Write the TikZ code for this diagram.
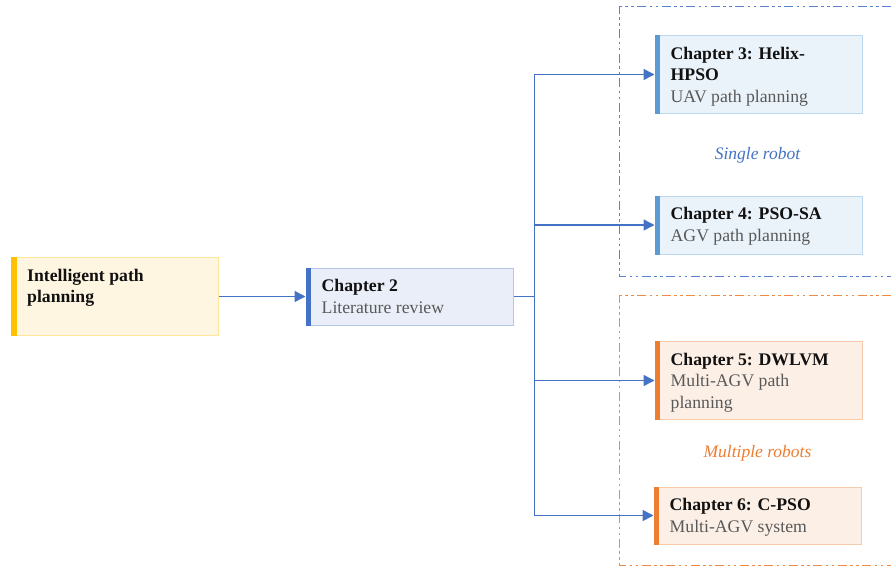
\documentclass[tikz,border=0pt]{standalone}
\usepackage{fontspec}
\setmainfont{Liberation Serif}
\usetikzlibrary{arrows.meta}

\definecolor{linkblue}{HTML}{4472C4}
\definecolor{frameorange}{HTML}{F08A45}
\definecolor{frameblue}{HTML}{5A82D2}
\definecolor{subgray}{HTML}{595959}
\definecolor{titleblack}{HTML}{111111}
% bar, fill and border colours of the boxes
\definecolor{barYellow}{HTML}{FFC000}
\definecolor{fillYellow}{HTML}{FFF6E1}
\definecolor{lineYellow}{HTML}{FFE699}
\definecolor{barDark}{HTML}{4472C4}
\definecolor{fillDark}{HTML}{E9EEF8}
\definecolor{lineDark}{HTML}{B4C7E7}
\definecolor{barLight}{HTML}{5B9BD5}
\definecolor{fillLight}{HTML}{EBF3FA}
\definecolor{lineLight}{HTML}{BDD7EE}
\definecolor{barOrange}{HTML}{ED7D31}
\definecolor{fillOrange}{HTML}{FCEFE6}
\definecolor{lineOrange}{HTML}{F8CBAD}

\tikzset{
  chapbox/.style={line width=1pt, anchor=north west, inner sep=0pt, minimum width=207pt},
  chaptext/.style={anchor=north west, align=left, inner sep=0pt,
    font=\fontsize{17.7}{21.5}\selectfont, text=titleblack},
  link/.style={draw=linkblue, line width=1.5pt},
  linkarrow/.style={link, -{Triangle[length=11pt,width=11pt]}},
  grouplabel/.style={font=\fontsize{17.5}{21}\selectfont\itshape, anchor=base},
  groupframe/.style={line width=1.6pt, line cap=butt,
    dash pattern=on 9pt off 3.5pt on 2.5pt off 3.5pt on 2.5pt off 3.5pt}
}

% coloured strip along the left side of a box
\newcommand\leftbar[2]{\fill[#2] (#1.north west) rectangle ([xshift=5.5pt]#1.south west);}
% the first line of every box text starts 14pt above its baseline
\newcommand\firstline{\rule{0pt}{14pt}}
\newcommand\subline[1]{\textcolor{subgray}{#1}}

\begin{document}
\begin{tikzpicture}[x=1pt,y=-1pt]
  \useasboundingbox (0,0) rectangle (891,568);

  % group frames, open on the right where they run off the page
  \coordinate (bt) at (891,6.5);   \coordinate (bb) at (891,276.5);
  \coordinate (ot) at (891,295.5); \coordinate (ob) at (891,565.5);
  \draw[groupframe, draw=frameblue] (bt) -- (619.5,6.5) -- (619.5,276.5) -- (bb);
  \draw[groupframe, draw=frameorange] (ot) -- (619.5,295.5) -- (619.5,565.5) -- (ob);
  \node[grouplabel, text=linkblue] (single) at (757.5,159) {Single robot};
  \node[grouplabel, text=barOrange] (multi) at (757.5,457) {Multiple robots};

  % boxes
  \node[chapbox, draw=lineYellow, fill=fillYellow, minimum height=78pt] (ip) at (11,257) {};
  \node[chapbox, draw=lineDark, fill=fillDark, minimum height=57pt] (c2) at (305.5,267.5) {};
  \node[chapbox, draw=lineLight, fill=fillLight, minimum height=78pt] (c3) at (654.5,35) {};
  \node[chapbox, draw=lineLight, fill=fillLight, minimum height=58pt] (c4) at (654.5,195.5) {};
  \node[chapbox, draw=lineOrange, fill=fillOrange, minimum height=78pt] (c5) at (654.5,341) {};
  \node[chapbox, draw=lineOrange, fill=fillOrange, minimum height=57pt] (c6) at (653.5,486.5) {};
  \leftbar{ip}{barYellow}
  \leftbar{c2}{barDark}
  \leftbar{c3}{barLight}
  \leftbar{c4}{barLight}
  \leftbar{c5}{barOrange}
  \leftbar{c6}{barOrange}

  % box texts
  \node[chaptext] (ipt) at ([shift={(16,10)}]ip.north west)
    {\firstline\textbf{Intelligent path}\\\textbf{planning}};
  \node[chaptext] (c2t) at ([shift={(16,10)}]c2.north west)
    {\firstline\textbf{Chapter 2}\\\subline{Literature review}};
  \node[chaptext] (c3t) at ([shift={(16,10)}]c3.north west)
    {\firstline\textbf{Chapter 3: Helix-}\\\textbf{HPSO}\\\subline{UAV path planning}};
  \node[chaptext] (c4t) at ([shift={(16,10)}]c4.north west)
    {\firstline\textbf{Chapter 4: PSO-SA}\\\subline{AGV path planning}};
  \node[chaptext] (c5t) at ([shift={(16,10)}]c5.north west)
    {\firstline\textbf{Chapter 5: DWLVM}\\\subline{Multi-AGV path}\\\subline{planning}};
  \node[chaptext] (c6t) at ([shift={(16,10)}]c6.north west)
    {\firstline\textbf{Chapter 6: C-PSO}\\\subline{Multi-AGV system}};

  % connectors
  \draw[linkarrow] (ip.east) -- (c2.west);
  \coordinate (split) at ([xshift=21pt]c2.east);
  \draw[link] (c2.east) -- (split);
  \draw[linkarrow] (split) |- (c3.west);
  \draw[linkarrow] (split) |- (c4.west);
  \draw[linkarrow] (split) |- (c5.west);
  \draw[linkarrow] (split) |- (c6.west);
\end{tikzpicture}
\end{document}
